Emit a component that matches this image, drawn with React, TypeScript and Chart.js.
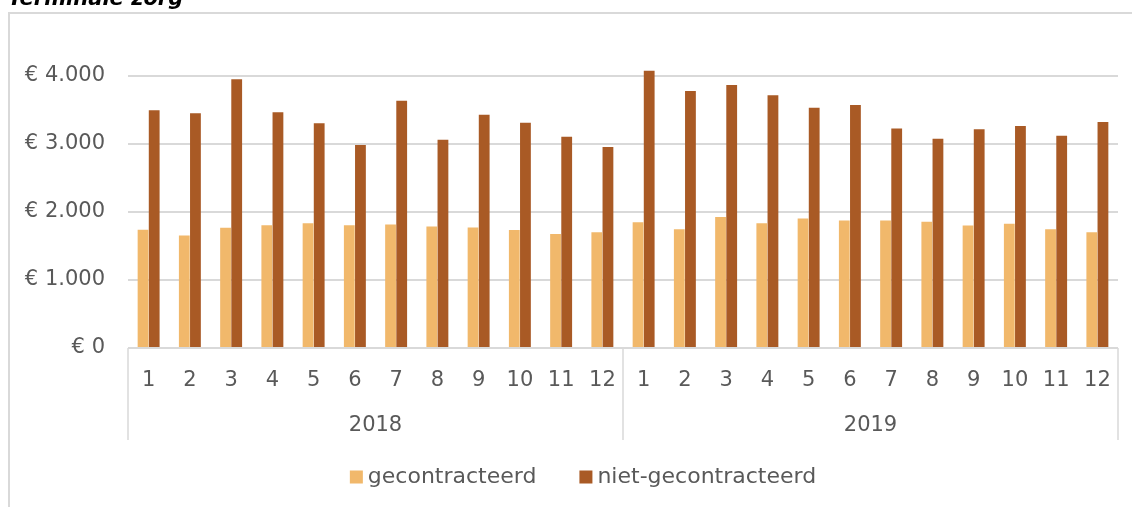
import React, { useEffect, useRef } from 'react';
import { Chart, registerables } from 'chart.js';

Chart.register(...registerables);

const months = ['1', '2', '3', '4', '5', '6', '7', '8', '9', '10', '11', '12', '1', '2', '3', '4', '5', '6', '7', '8', '9', '10', '11', '12'];
const years = ['2018', '2019'];
const gecontracteerd = [1735, 1652, 1765, 1804, 1833, 1804, 1815, 1785, 1771, 1732, 1673, 1698, 1848, 1745, 1922, 1833, 1902, 1873, 1873, 1853, 1799, 1824, 1745, 1701];
const nietGecontracteerd = [3490, 3446, 3946, 3461, 3299, 2980, 3629, 3059, 3424, 3307, 3102, 2951, 4069, 3775, 3863, 3711, 3529, 3569, 3221, 3074, 3211, 3260, 3118, 3319];
const seriesNames = ['gecontracteerd', 'niet-gecontracteerd'];
const seriesColors = ['#F1B86B', '#A95A25'];
const yTicks = [0, 1000, 2000, 3000, 4000];
const title = 'Terminale zorg';

const FONT = "'DejaVu Sans', sans-serif";
const TEXT = '#595959';
const GRID = '#d9d9d9';

function fmt(v: number): string {
  if (v === 0) return '€ 0';
  return '€ ' + String(v).replace(/\B(?=(\d{3})+(?!\d))/g, '.');
}

const decorPlugin = {
  id: 'decor',
  beforeDraw(chart: any) {
    const ctx = chart.ctx;
    ctx.save();
    ctx.strokeStyle = GRID;
    ctx.lineWidth = 2;
    ctx.beginPath();
    ctx.moveTo(8, 13);
    ctx.lineTo(chart.width, 13);
    ctx.moveTo(9, 12);
    ctx.lineTo(9, chart.height);
    ctx.stroke();
    ctx.fillStyle = '#000';
    ctx.font = 'italic bold 21px ' + FONT;
    ctx.textBaseline = 'alphabetic';
    ctx.textAlign = 'left';
    ctx.fillText(title, 8, 5);
    ctx.restore();
  },
  afterDraw(chart: any) {
    const x = chart.scales.x;
    const ctx = chart.ctx;
    const n = months.length;
    const w = (x.right - x.left) / n;
    const bottom = chart.chartArea.bottom;
    ctx.save();
    ctx.strokeStyle = GRID;
    ctx.lineWidth = 2;
    ctx.beginPath();
    ctx.moveTo(x.left, bottom);
    ctx.lineTo(x.right, bottom);
    ctx.stroke();
    ctx.lineWidth = 1.5;
    const per = n / years.length;
    ctx.beginPath();
    for (let g = 0; g <= years.length; g++) {
      const i = g * per;
      const px = i < n ? x.getPixelForValue(i) - w / 2 : x.getPixelForValue(n - 1) + w / 2;
      ctx.moveTo(px, bottom);
      ctx.lineTo(px, bottom + 92);
    }
    ctx.stroke();
    ctx.fillStyle = TEXT;
    ctx.font = '21px ' + FONT;
    ctx.textAlign = 'center';
    ctx.textBaseline = 'middle';
    years.forEach((yr, g) => {
      const c = (x.getPixelForValue(g * per) + x.getPixelForValue(g * per + per - 1)) / 2;
      ctx.fillText(yr, c, bottom + 78);
    });

    // legend
    ctx.font = '22px ' + FONT;
    ctx.textAlign = 'left';
    const box = 13;
    const gapText = 5;
    const gapItem = 43;
    const widths = seriesNames.map((s) => ctx.measureText(s).width);
    let total = 0;
    widths.forEach((tw, i) => {
      total += box + gapText + tw + (i < widths.length - 1 ? gapItem : 0);
    });
    let cx = 583 - total / 2;
    const cy = 477;
    seriesNames.forEach((s, i) => {
      ctx.fillStyle = seriesColors[i];
      ctx.fillRect(cx, cy - box / 2, box, box);
      cx += box + gapText;
      ctx.fillStyle = TEXT;
      ctx.fillText(s, cx, cy);
      cx += widths[i] + gapItem;
    });
    ctx.restore();
  },
};

export default function App() {
  const ref = useRef<HTMLCanvasElement | null>(null);
  useEffect(() => {
    if (!ref.current) return;
    const chart = new Chart(ref.current, {
      type: 'bar',
      data: {
        labels: months,
        datasets: seriesNames.map((name, i) => ({
          label: name,
          data: i === 0 ? gecontracteerd : nietGecontracteerd,
          backgroundColor: seriesColors[i],
          categoryPercentage: 0.54,
          barPercentage: 0.97,
        })),
      },
      options: {
        responsive: false,
        animation: false,
        layout: { padding: { left: 0, right: 14, top: 41.5, bottom: 81 } },
        plugins: {
          tooltip: { enabled: false },
          legend: { display: false },
        },
        scales: {
          x: {
            grid: { display: false, drawTicks: false },
            border: { display: false },
            ticks: {
              color: TEXT,
              font: { size: 21, family: FONT },
              padding: 20,
              maxRotation: 0,
              autoSkip: false,
            },
            afterFit: (s: any) => {
              s.height = 78;
            },
          },
          y: {
            min: 0,
            max: 4500,
            grid: { color: GRID, lineWidth: 2, drawTicks: false },
            border: { display: false },
            ticks: {
              color: TEXT,
              font: { size: 21, family: FONT },
              padding: 23,
              callback: (v: any) => fmt(Number(v)),
            },
            afterBuildTicks: (s: any) => {
              s.ticks = yTicks.map((v) => ({ value: v }));
            },
            afterFit: (s: any) => {
              s.width = 128;
            },
          },
        },
      },
      plugins: [decorPlugin],
    } as any);
    return () => chart.destroy();
  }, []);
  return (
    <div style={{ position: 'absolute', left: 0, top: 0, width: 1132, height: 507 }}>
      <canvas ref={ref} width={1132} height={507} style={{ display: 'block' }} />
    </div>
  );
}
